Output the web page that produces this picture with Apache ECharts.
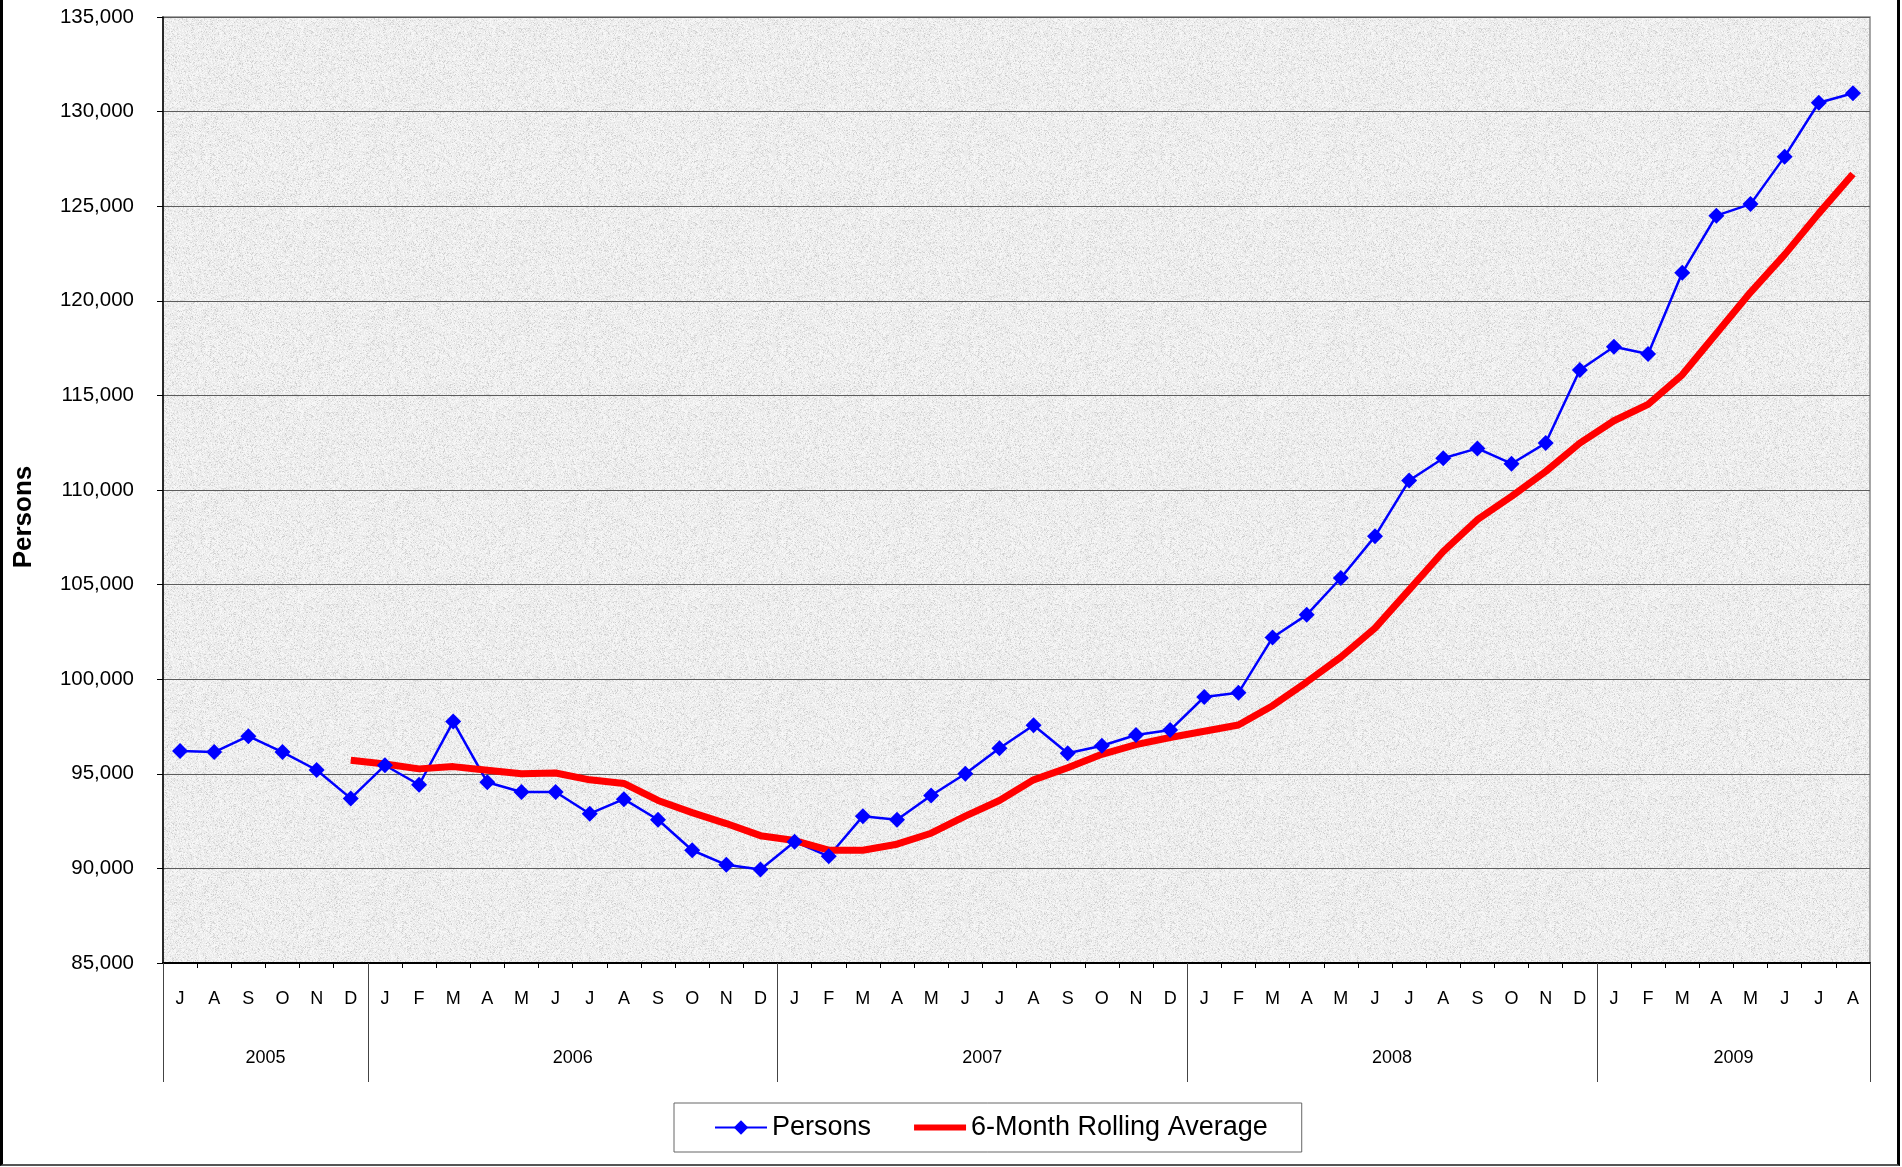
<!DOCTYPE html>
<html>
<head>
<meta charset="utf-8">
<title>Persons</title>
<script src="https://cdn.jsdelivr.net/npm/echarts@6/dist/echarts.min.js"></script>
<style>
  html, body { margin: 0; padding: 0; background: #fff; }
  #wrap { position: absolute; left: 0; top: 0; width: 1894px; height: 1164px;
    border-left: 3px solid #000; border-right: 3px solid #000; border-bottom: 2px solid #555; }
  #chart { width: 1894px; height: 1164px; }
</style>
</head>
<body>
<div id="wrap"><div id="chart"></div></div>
<script>
/* monthly series Jul 2005 .. Aug 2009 */
const months = ['J','A','S','O','N','D',
  'J','F','M','A','M','J','J','A','S','O','N','D',
  'J','F','M','A','M','J','J','A','S','O','N','D',
  'J','F','M','A','M','J','J','A','S','O','N','D',
  'J','F','M','A','M','J','J','A'];
// year row: one slot per month boundary (51), label in the middle of each year
const yearSlots = ['','','','2005','','','','','','','','','2006','','','','','','','','','','','','2007','','','','','','','','','','','','2008','','','','','','','','','','2009','','','',''];
const yearBounds = [0, 6, 18, 30, 42, 50];

const persons = [96200, 96150, 96990, 96150, 95200, 93700,
  95450, 94420, 97760, 94550, 94040, 94040, 92890, 93660, 92570, 90960, 90190, 89940,
  91410, 90640, 92760, 92570, 93850, 95000, 96350, 97570, 96090, 96480, 97050, 97310,
  99060, 99280, 102200, 103400, 105350, 107550, 110500, 111680, 112200, 111390, 112480, 116340,
  117570, 117190, 121480, 124500, 125110, 127620, 130470, 130970];
const rolling = [null, null, null, null, null, 95720,
  95520, 95260, 95380, 95190, 95000, 95040, 94680, 94490, 93590, 92950, 92370, 91730,
  91470, 90960, 90960, 91280, 91860, 92760, 93590, 94680, 95320, 96030, 96540, 96920,
  97250, 97580, 98600, 99850, 101170, 102700, 104720, 106750, 108430, 109660, 110980, 112480,
  113660, 114530, 116090, 118270, 120450, 122440, 124620, 126700];

const FONT = '"Liberation Sans", Arial, sans-serif';

// light granite texture for the plot area (deterministic hash, no randomness)
function texture() {
  const cv = document.createElement('canvas'); cv.width = 192; cv.height = 192;
  const g = cv.getContext('2d');
  g.fillStyle = '#ececec'; g.fillRect(0, 0, 192, 192);
  for (let y = 0; y < 192; y++) for (let x = 0; x < 192; x++) {
    const h = Math.abs(Math.sin(x * 12.9898 + y * 78.233) * 43758.5453) % 1;
    if (h < 0.22) { const v = 205 + Math.round(h * 150); g.fillStyle = 'rgb(' + v + ',' + v + ',' + v + ')'; g.fillRect(x, y, 1, 1); }
    else if (h > 0.7) { g.fillStyle = '#f7f7f7'; g.fillRect(x, y, 1, 1); }
  }
  return cv;
}

const chart = echarts.init(document.getElementById('chart'), null, { renderer: 'canvas' });
chart.setOption({
  animation: false,
  textStyle: { fontFamily: FONT },
  grid: { left: 157, top: 17, width: 1710, height: 946, show: true,
    backgroundColor: { image: texture(), repeat: 'repeat' }, borderColor: '#8a8a8a', borderWidth: 1.5 },
  legend: {
    left: 671, top: 1103, padding: [11, 34, 11, 40], itemGap: 40, itemWidth: 52, itemHeight: 18,
    borderColor: '#666', borderWidth: 1, backgroundColor: '#fff',
    textStyle: { fontSize: 27, color: '#000', fontFamily: FONT },
    data: ['Persons', { name: '6-Month Rolling Average', itemStyle: { opacity: 0 }, lineStyle: { width: 6, color: '#ff0000' } }],
  },
  xAxis: [
    { type: 'category', data: months, position: 'bottom', boundaryGap: true,
      axisLine: { lineStyle: { color: '#000', width: 2 } },
      axisTick: { show: true, interval: 0, length: 5, lineStyle: { color: '#000' } },
      axisLabel: { interval: 0, margin: 27, fontSize: 18, color: '#000' },
      splitLine: { show: false } },
    { type: 'category', data: yearSlots, position: 'bottom', boundaryGap: false,
      axisLine: { show: false },
      axisTick: { show: true, interval: i => yearBounds.includes(i), length: 119, lineStyle: { color: '#444', width: 1 } },
      axisLabel: { interval: 0, margin: 86, fontSize: 18, color: '#000' },
      splitLine: { show: false } },
  ],
  yAxis: {
    type: 'value', min: 85000, max: 135000, interval: 5000,
    name: 'Persons', nameLocation: 'middle', nameRotate: 90, nameGap: 126,
    nameTextStyle: { fontSize: 26, fontWeight: 'bold', color: '#000', fontFamily: FONT, padding: [0, 54, 0, 0] },
    axisLine: { show: true, lineStyle: { color: '#000', width: 1.5 } },
    axisTick: { show: true, length: 6, lineStyle: { color: '#000' } },
    axisLabel: { margin: 29, fontSize: 20.5, color: '#000', formatter: v => v.toLocaleString('en-US') },
    splitLine: { lineStyle: { color: '#5c5c5c', width: 1 } },
  },
  series: [
    { name: 'Persons', type: 'line', data: persons, symbol: 'diamond', symbolSize: 16,
      itemStyle: { color: '#0000ff' }, lineStyle: { color: '#0000ff', width: 2.5 } },
    { name: '6-Month Rolling Average', type: 'line', data: rolling, symbol: 'none',
      itemStyle: { color: '#ff0000' }, lineStyle: { color: '#ff0000', width: 7 } },
  ],
});
</script>
</body>
</html>
